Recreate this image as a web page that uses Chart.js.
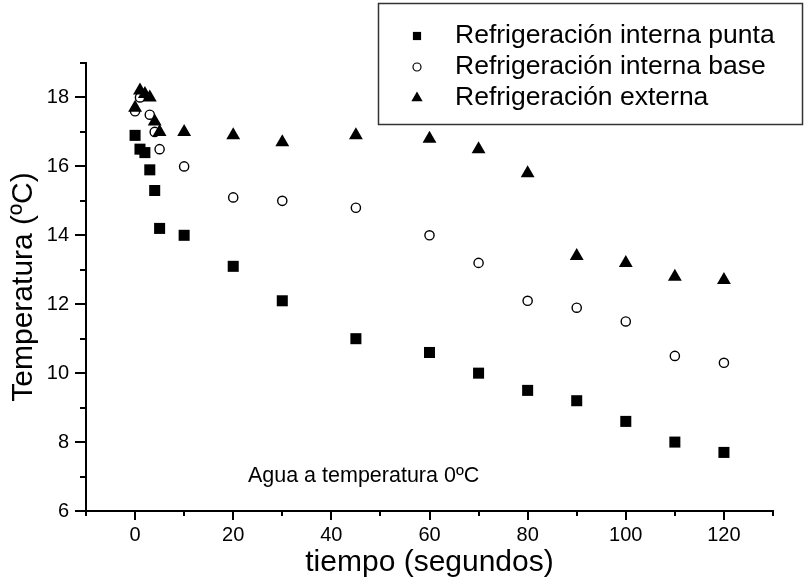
<!DOCTYPE html>
<html>
<head>
<meta charset="utf-8">
<script src="https://cdn.jsdelivr.net/npm/chart.js@4/dist/chart.umd.min.js"></script>
<style>
  html, body { margin: 0; padding: 0; background: #fff; }
  #wrap { width: 807px; height: 584px; position: relative; }
</style>
</head>
<body>
<div id="wrap"><canvas id="tempChart"></canvas></div>
<script>
// data
const tiempo = [0, 1, 2, 3, 4, 5, 10, 20, 30, 45, 60, 70, 80, 90, 100, 110, 120];
const internaPunta = [16.9, 16.5, 16.4, 15.9, 15.3, 14.2, 14.0, 13.1, 12.1, 11.0, 10.6, 10.0, 9.5, 9.2, 8.6, 8.0, 7.7];
const internaBase = [17.6, 18.0, null, 17.5, 17.0, 16.5, 16.0, 15.1, 15.0, 14.8, 14.0, 13.2, 12.1, 11.9, 11.5, 10.5, 10.3];
const externa = [17.7, 18.2, 18.1, 18.0, 17.3, 17.0, 17.0, 16.9, 16.7, 16.9, 16.8, 16.5, 15.8, 13.4, 13.2, 12.8, 12.7];

const seriesNames = ['Refrigeración interna punta', 'Refrigeración interna base', 'Refrigeración externa'];
const xTicksLabelled = [0, 20, 40, 60, 80, 100, 120];
const yTicksLabelled = [6, 8, 10, 12, 14, 16, 18];
const nota = 'Agua a temperatura 0ºC';

const FONT = "'Liberation Sans', Arial, sans-serif";
Chart.defaults.font.family = FONT;
Chart.defaults.color = '#000';

function toPoints(values) {
  return tiempo.map((t, i) => ({ x: t, y: values[i] })).filter(p => p.y !== null);
}

// tick marks: long for labelled values, short for the rest
const tickMarks = {
  id: 'tickMarks',
  afterDraw(chart) {
    const ctx = chart.ctx;
    const xs = chart.scales.x;
    const ys = chart.scales.y;
    ctx.save();
    ctx.strokeStyle = '#000';
    ctx.lineWidth = 2;
    ctx.beginPath();
    xs.ticks.forEach(t => {
      const px = Math.round(xs.getPixelForValue(t.value));
      const len = xTicksLabelled.includes(t.value) ? 9 : 5;
      ctx.moveTo(px, xs.top);
      ctx.lineTo(px, xs.top + len);
    });
    ys.ticks.forEach(t => {
      const py = Math.round(ys.getPixelForValue(t.value));
      const len = yTicksLabelled.includes(t.value) ? 11 : 6;
      ctx.moveTo(ys.right, py);
      ctx.lineTo(ys.right - len, py);
    });
    ctx.stroke();
    ctx.restore();
  }
};

// boxed legend top right + note inside the plot
const boxLegend = {
  id: 'boxLegend',
  afterDraw(chart) {
    const ctx = chart.ctx;
    ctx.save();
    ctx.strokeStyle = '#333';
    ctx.lineWidth = 1.5;
    ctx.strokeRect(378.5, 3.5, 424, 121);

    const styles = [
      { pointStyle: 'rect', radius: 5.8, borderWidth: 0, fill: '#000' },
      { pointStyle: 'circle', radius: 4, borderWidth: 1.2, fill: '#fff' },
      { pointStyle: 'triangle', radius: 6.5, borderWidth: 0, fill: '#000' }
    ];
    const rows = [36, 67, 98];
    ctx.font = '26.5px ' + FONT;
    ctx.textBaseline = 'middle';
    ctx.textAlign = 'left';
    seriesNames.forEach((name, i) => {
      ctx.fillStyle = styles[i].fill;
      ctx.strokeStyle = '#000';
      ctx.lineWidth = styles[i].borderWidth;
      Chart.helpers.drawPoint(ctx, styles[i], 417, rows[i]);
      ctx.fillStyle = '#000';
      ctx.fillText(name, 455, rows[i]);
    });

    const xs = chart.scales.x;
    const ys = chart.scales.y;
    ctx.font = '21.5px ' + FONT;
    ctx.fillStyle = '#000';
    ctx.fillText(nota, xs.getPixelForValue(23), ys.getPixelForValue(7.02));
    ctx.restore();
  }
};

new Chart(document.getElementById('tempChart').getContext('2d'), {
  type: 'scatter',
  data: {
    datasets: [
      {
        label: seriesNames[0],
        data: toPoints(internaPunta),
        pointStyle: 'rect',
        pointRadius: 7.8,
        pointBorderWidth: 0,
        backgroundColor: '#000',
        borderColor: '#000',
        order: 3
      },
      {
        label: seriesNames[1],
        data: toPoints(internaBase),
        pointStyle: 'circle',
        pointRadius: 4.6,
        pointBorderWidth: 1.4,
        backgroundColor: '#fff',
        borderColor: '#000',
        order: 2
      },
      {
        label: seriesNames[2],
        data: toPoints(externa),
        pointStyle: 'triangle',
        pointRadius: 8,
        pointBorderWidth: 0,
        backgroundColor: '#000',
        borderColor: '#000',
        order: 1
      }
    ]
  },
  options: {
    responsive: true,
    maintainAspectRatio: false,
    animation: false,
    devicePixelRatio: 1,
    clip: false,
    layout: { padding: { top: 63, right: 34, left: 0, bottom: 0 } },
    plugins: {
      legend: { display: false },
      tooltip: { enabled: false }
    },
    scales: {
      x: {
        type: 'linear',
        min: -10,
        max: 130,
        afterFit(scale) { scale.height = 73; },
        grid: { display: false, drawTicks: true, tickLength: 9 },
        border: { display: true, color: '#000', width: 2 },
        ticks: {
          stepSize: 10,
          autoSkip: false,
          maxRotation: 0,
          padding: 3,
          font: { size: 20 },
          callback: v => xTicksLabelled.includes(v) ? String(v) : ''
        },
        title: {
          display: true,
          text: 'tiempo (segundos)',
          font: { size: 30 },
          padding: { top: 0, bottom: 3 }
        }
      },
      y: {
        type: 'linear',
        min: 6,
        max: 19,
        afterFit(scale) { scale.width = 86; },
        grid: { display: false, drawTicks: true, tickLength: 11 },
        border: { display: true, color: '#000', width: 2 },
        ticks: {
          stepSize: 1,
          autoSkip: false,
          padding: 6,
          font: { size: 20 },
          callback: v => yTicksLabelled.includes(v) ? String(v) : ''
        },
        title: {
          display: true,
          text: 'Temperatura (ºC)',
          font: { size: 30 },
          padding: { top: 6, bottom: 0 }
        }
      }
    }
  },
  plugins: [tickMarks, boxLegend]
});
</script>
</body>
</html>
